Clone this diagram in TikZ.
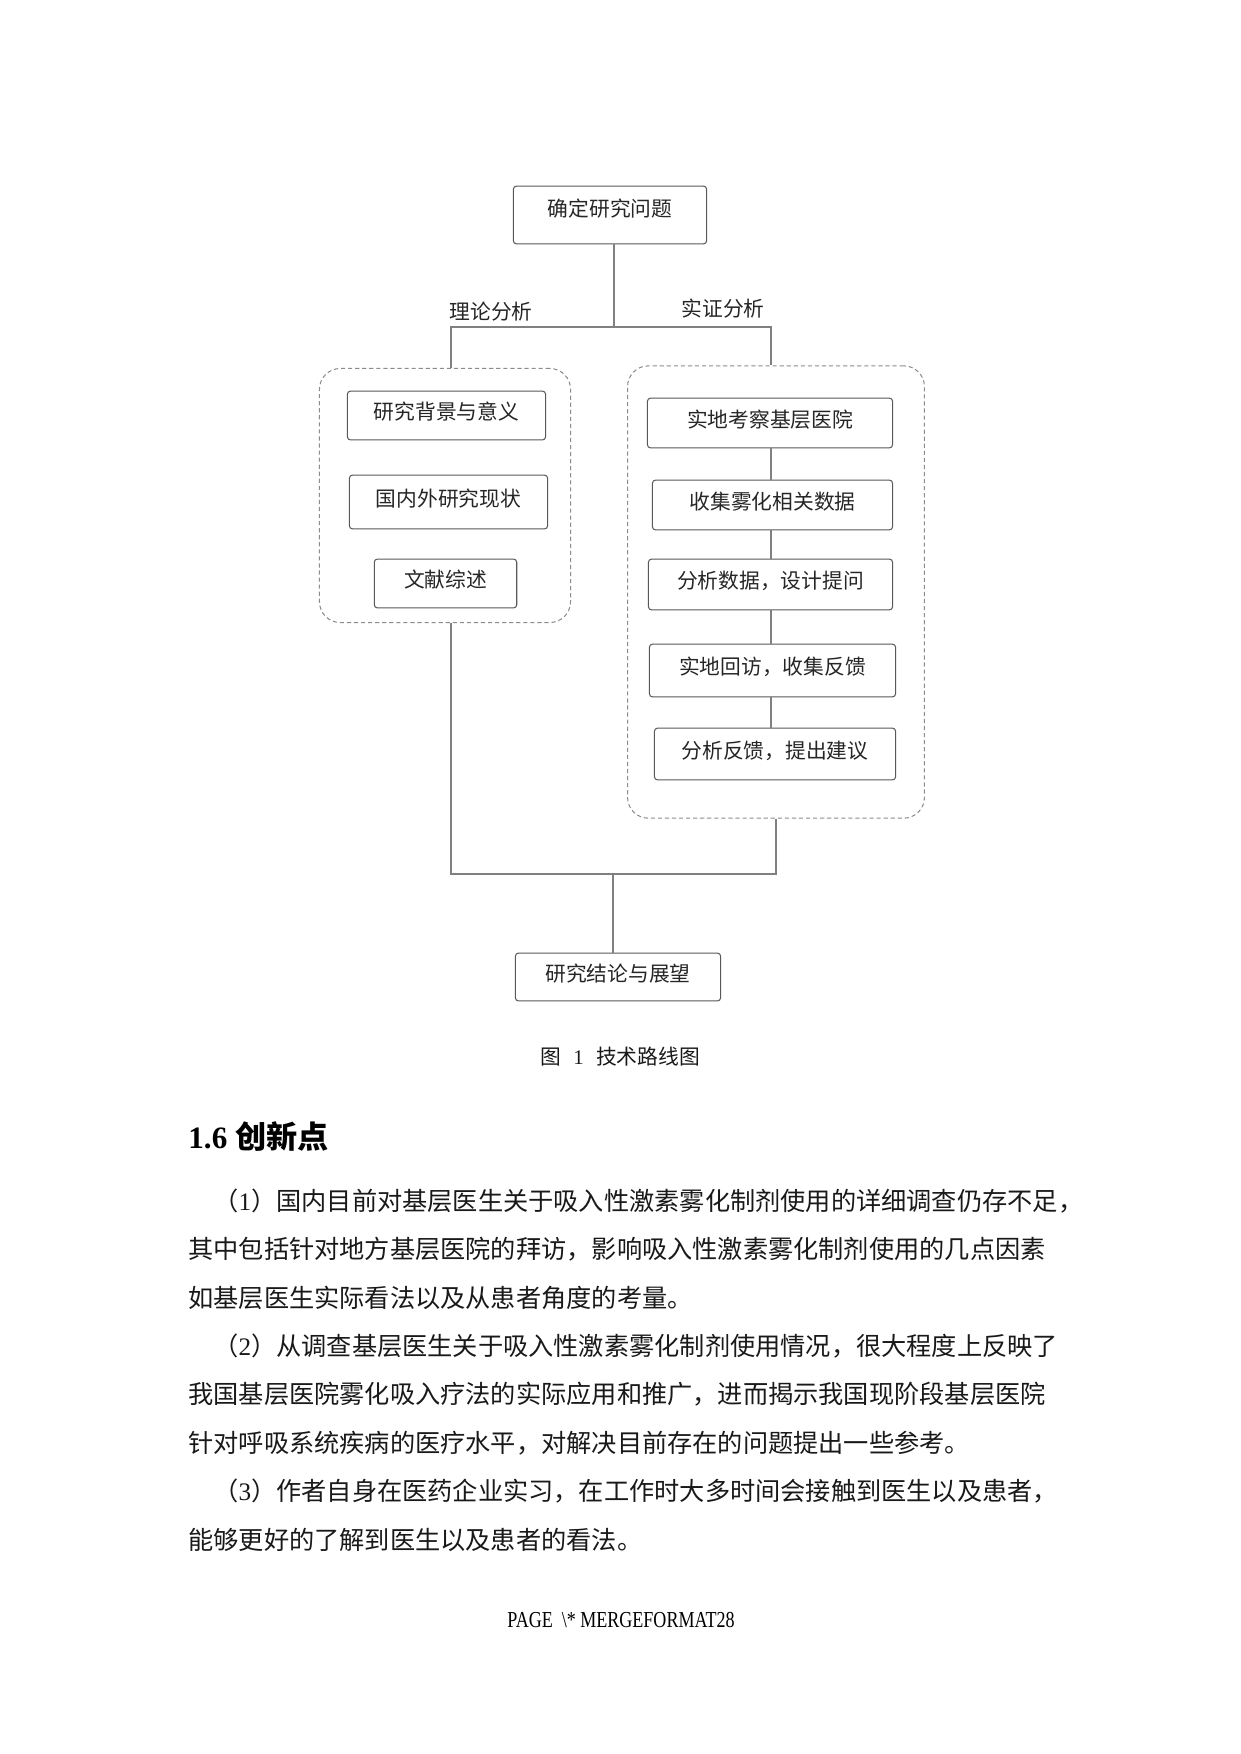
\documentclass[tikz,border=0pt]{standalone}
\usepackage{fontspec}
\setmainfont{Liberation Serif}
\newfontfamily\cjk{Noto Sans CJK SC}
\usetikzlibrary{positioning,calc}
\newcommand\px{0.4801pt}
\newcommand\itemno[1]{（{\rmfamily #1}）}
\tikzset{
	stepbox/.style={draw=black!65, line width=0.5pt, rounded corners=1.5pt, inner sep=0pt,
			text depth=4.5pt, text=black!85, font=\cjk\fontsize{10}{12}\selectfont},
	groupbox/.style={draw=black!45, line width=0.5pt, dash pattern=on 2pt off 1.4pt,
			rounded corners=10pt, inner sep=0pt},
	link/.style={draw=black!50, line width=0.5pt},
	branchlbl/.style={text=black!85, font=\cjk\fontsize{10}{12}\selectfont},
	bodyline/.style={anchor=west, inner sep=0pt, text=black!90, font=\cjk\fontsize{12.15}{14}\selectfont}
}

\begin{document}
\begin{tikzpicture}[x=0.016935cm, y=-0.016935cm]
	\useasboundingbox[fill=white] (0,0) rectangle (1240,1754);

	% dashed groups
	\node[groupbox, minimum width=252*\px, minimum height=255*\px] (theorygrp) at (445,495.5) {};
	\node[groupbox, minimum width=298*\px, minimum height=454*\px] (practicegrp) at (776,592) {};

	% steps
	\node[stepbox, text depth=7.5pt, minimum width=194*\px, minimum height=58*\px] (question) at (610,215) {确定研究问题};
	\node[stepbox, minimum width=199*\px, minimum height=49*\px] (background) at (446.5,415.5) {研究背景与意义};
	\node[stepbox, minimum width=199*\px, minimum height=54*\px] (status) at (448.5,502) {国内外研究现状};
	\node[stepbox, minimum width=143*\px, minimum height=49*\px] (review) at (445.5,583.5) {文献综述};
	\node[stepbox, minimum width=246*\px, minimum height=50*\px] (survey) at (770,423) {实地考察基层医院};
	\node[stepbox, minimum width=241*\px, minimum height=50*\px] (collect) at (772.5,505) {收集雾化相关数据};
	\node[stepbox, minimum width=245*\px, minimum height=51*\px] (analyse) at (770.5,584.5) {分析数据，设计提问};
	\node[stepbox, minimum width=247*\px, minimum height=53*\px] (revisit) at (772.5,670.5) {实地回访，收集反馈};
	\node[stepbox, minimum width=242*\px, minimum height=52*\px] (advise) at (775,754) {分析反馈，提出建议};
	\node[stepbox, minimum width=206*\px, minimum height=48*\px] (conclusion) at (618,977) {研究结论与展望};

	\node[branchlbl] (theorylbl) at (491,312) {理论分析};
	\node[branchlbl] (practicelbl) at (723,309) {实证分析};

	% connectors
	\coordinate (split) at (614,327);
	\coordinate (ltap) at (451,327);
	\coordinate (rtap) at (771,327);
	\coordinate (lfoot) at (451,874);
	\coordinate (rfoot) at (776,874);
	\coordinate (merge) at (613,874);

	\draw[link] (question.south -| split) -- (split);
	\draw[link] (ltap |- theorygrp.north) -- (ltap) -- (rtap) -- (rtap |- practicegrp.north);
	\foreach \a/\b in {survey/collect, collect/analyse, analyse/revisit, revisit/advise}
		\draw[link] (\a.south -| rtap) -- (\b.north -| rtap);
	\draw[link] (lfoot |- theorygrp.south) -- (lfoot) -- (rfoot) -- (rfoot |- practicegrp.south);
	\draw[link] (merge) -- (merge |- conclusion.north);

	\node[text=black!90, font=\cjk\fontsize{10}{12}\selectfont] (caption) at (620,1057)
		{图\hspace{6pt}{\rmfamily 1}\hspace{6pt}技术路线图};

	% text below
	\node[anchor=west, inner sep=0pt, font=\fontsize{15}{18}\selectfont\bfseries] (heading) at (188,1137)
		{1.6 {\cjk\bfseries 创新点}};

	\foreach \x/\t [count=\i] in {
			213/{\itemno{1}国内目前对基层医生关于吸入性激素雾化制剂使用的详细调查仍存不足，},
			188/{其中包括针对地方基层医院的拜访，影响吸入性激素雾化制剂使用的几点因素},
			188/{如基层医生实际看法以及从患者角度的考量。},
			213/{\itemno{2}从调查基层医生关于吸入性激素雾化制剂使用情况，很大程度上反映了},
			188/{我国基层医院雾化吸入疗法的实际应用和推广，进而揭示我国现阶段基层医院},
			188/{针对呼吸系统疾病的医疗水平，对解决目前存在的问题提出一些参考。},
			213/{\itemno{3}作者自身在医药企业实习，在工作时大多时间会接触到医生以及患者，},
			188/{能够更好的了解到医生以及患者的看法。}}
		\node[bodyline] (line\i) at (\x,{1201+48.4*(\i-1)}) {\t};

	\node[font=\fontsize{11}{13}\selectfont, xscale=0.79, transform shape] (pagefoot) at (621,1620)
		{PAGE \ \textbackslash* MERGEFORMAT28};
\end{tikzpicture}
\end{document}
